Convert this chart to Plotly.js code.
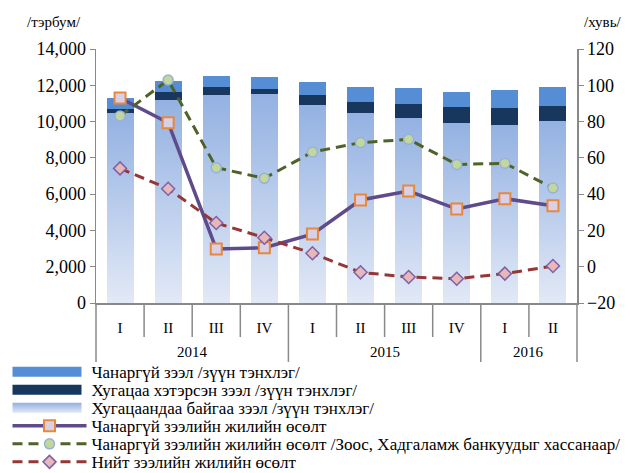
<!DOCTYPE html>
<html>
<head>
<meta charset="utf-8">
<script src="https://cdn.plot.ly/plotly-3.0.1.min.js"></script>
<style>html,body{margin:0;padding:0;background:#fff;}#chart{width:630px;height:473px;}</style>
</head>
<body>
<div id="chart"></div>
<script>
var years = ['2014','2014','2014','2014','2015','2015','2015','2015','2016','2016'];
var quarters = ['I','II','III','IV','I','II','III','IV','I','II'];
var performingLoans = [10450, 11200, 11460, 11520, 10910, 10490, 10200, 9940, 9810, 10050];
var overdueLoans = [260, 430, 440, 280, 550, 590, 770, 860, 940, 810];
var nplLoans = [590, 600, 610, 660, 720, 830, 880, 830, 990, 1050];
var nplGrowth = [93.0, 79.4, 9.8, 10.5, 18.0, 36.8, 41.7, 31.8, 37.5, 33.6];
var nplGrowthExBanks = [83.1, 102.9, 54.6, 48.7, 63.2, 68.4, 70.2, 56.4, 57.0, 43.4];
var totalLoanGrowth = [54.2, 43.0, 24.1, 16.0, 7.4, -3.1, -5.7, -6.6, -3.8, 0.4];

var names = [
  'Чанаргүй зээл /зүүн тэнхлэг/',
  'Хугацаа хэтэрсэн зээл /зүүн тэнхлэг/',
  'Хугацаандаа байгаа зээл /зүүн тэнхлэг/',
  'Чанаргүй зээлийн жилийн өсөлт',
  'Чанаргүй зээлийн жилийн өсөлт /Зоос, Хадгаламж банкуудыг хассанаар/',
  'Нийт зээлийн жилийн өсөлт'
];

// unique category keys (year + quarter), displayed as quarter only
var x = years.map(function(y, i){ return y + ' ' + quarters[i]; });
var FONT = '"Liberation Serif", "Times New Roman", serif';
var AXC = '#898989';
var N = quarters.length;

var traces = [
  {type:'bar', x:x, y:performingLoans, name:names[2], legendrank:3,
   marker:{color:'#b4c7e7', line:{width:0}}, hoverinfo:'none'},
  {type:'bar', x:x, y:overdueLoans, name:names[1], legendrank:2,
   marker:{color:'#17375e', line:{width:0}}, hoverinfo:'none'},
  {type:'bar', x:x, y:nplLoans, name:names[0], legendrank:1,
   marker:{color:'#558ed5', line:{width:0}}, hoverinfo:'none'},
  {type:'scatter', mode:'lines+markers', x:x, y:nplGrowth, yaxis:'y2', name:names[3], legendrank:4,
   line:{color:'#5f4b8b', width:3.5},
   marker:{symbol:'square', size:11, color:'#d9d0e8', line:{color:'#e8883a', width:2}}},
  {type:'scatter', mode:'lines+markers', x:x, y:nplGrowthExBanks, yaxis:'y2', name:names[4], legendrank:5,
   line:{color:'#4f6228', width:3, dash:'10px,6px'},
   marker:{symbol:'circle', size:10, color:'#c3d69b', line:{color:'#95b3d7', width:1.5}}},
  {type:'scatter', mode:'lines+markers', x:x, y:totalLoanGrowth, yaxis:'y2', name:names[5], legendrank:6,
   line:{color:'#953735', width:3, dash:'10px,6px'},
   marker:{symbol:'diamond', size:10, color:'#e6b9b8', line:{color:'#7f60a8', width:1.5}}}
];

// axis decorations: quarter separators and year dividers below the axis
var shapes = [];
var annotations = [];
for (var i = 0; i <= N; i++) {
  var yearEdge = (i === 0 || i === N || years[i] !== years[i - 1]);
  shapes.push({type:'line', xref:'paper', yref:'paper', x0:i/N, x1:i/N,
               y0:0, y1:yearEdge ? -0.232 : -0.134, line:{color:AXC, width:1.5}});
}
// year labels centered under their quarters
var seen = {};
years.forEach(function(y, i){ if (!seen[y]) seen[y] = []; seen[y].push(i); });
Object.keys(seen).forEach(function(y){
  var idx = seen[y];
  var mid = (idx[0] + idx[idx.length - 1]) / 2;
  annotations.push({xref:'x', yref:'paper', x:mid, y:-0.193, xanchor:'center', yanchor:'middle', showarrow:false,
                    text:y, font:{family:FONT, size:15, color:'#000'}});
});
annotations.push({xref:'paper', yref:'paper', x:-0.088, y:1.106, xanchor:'center', yanchor:'middle', showarrow:false,
                  text:'/тэрбум/', font:{family:FONT, size:15, color:'#000'}});
annotations.push({xref:'paper', yref:'paper', x:1.054, y:1.106, xanchor:'center', yanchor:'middle', showarrow:false,
                  text:'/хувь/', font:{family:FONT, size:15, color:'#000'}});

var layout = {
  width:630, height:473,
  margin:{l:96, r:53, t:49, b:170, autoexpand:false},
  paper_bgcolor:'#fff', plot_bgcolor:'#fff',
  font:{family:FONT, color:'#000', size:14},
  barmode:'stack', bargap:0.44,
  showlegend:true,
  legend:{x:-0.184, xanchor:'left', y:-0.202, yanchor:'top', traceorder:'normal', itemwidth:74,
          font:{family:FONT, size:17, color:'#000'}, tracegroupgap:0, bgcolor:'rgba(0,0,0,0)'},
  xaxis:{type:'category', tickvals:x, ticktext:quarters, showline:true, linecolor:AXC, linewidth:1.5,
         ticks:'', ticklabelstandoff:10, range:[-0.5, N - 0.5],
         tickfont:{family:FONT, size:15, color:'#000'}, showgrid:false, zeroline:false},
  yaxis:{range:[0,14000], dtick:2000, tickformat:',d', showline:true, linecolor:AXC, linewidth:1.5,
         ticks:'outside', ticklen:5, tickcolor:AXC, showgrid:false, zeroline:false,
         tickfont:{family:FONT, size:18, color:'#000'}},
  yaxis2:{range:[-20,120], dtick:20, overlaying:'y', side:'right', showline:true, linecolor:AXC, linewidth:1.5,
         ticks:'outside', ticklen:5, tickcolor:AXC, showgrid:false, zeroline:false,
         tickfont:{family:FONT, size:18, color:'#000'}},
  shapes: shapes,
  annotations: annotations
};

Plotly.newPlot('chart', traces, layout, {staticPlot:true, displayModeBar:false}).then(function(gd){
  var svg = gd.querySelector('.main-svg');
  var ns = 'http://www.w3.org/2000/svg';
  var defs = svg.querySelector('defs') || svg.insertBefore(document.createElementNS(ns,'defs'), svg.firstChild);
  var g = document.createElementNS(ns,'linearGradient');
  g.setAttribute('id','perfGrad');
  g.setAttribute('x1','0'); g.setAttribute('y1','0'); g.setAttribute('x2','0'); g.setAttribute('y2','1');
  [['0','#93b1e2'],['1','#e2e9f6']].forEach(function(s){
    var st = document.createElementNS(ns,'stop'); st.setAttribute('offset',s[0]); st.setAttribute('stop-color',s[1]); g.appendChild(st);
  });
  defs.appendChild(g);
  var barTraces = gd.querySelectorAll('.barlayer .trace');
  if (barTraces.length) {
    barTraces[0].querySelectorAll('path').forEach(function(p){ p.style.fill = 'url(#perfGrad)'; });
  }
  // legend: remove scroll clipping, tighten row spacing, widen bar swatches
  gd.querySelectorAll('.legend, .legend *').forEach(function(el){
    if (el.hasAttribute && el.hasAttribute('clip-path')) el.removeAttribute('clip-path');
  });
  gd.querySelectorAll('.legend .scrollbar').forEach(function(el){ el.style.display = 'none'; });
  var items = Array.prototype.slice.call(gd.querySelectorAll('.legend .traces'));
  var refItem = items.filter(function(t){ var tx = t.querySelector('.legendtext'); return tx && tx.textContent === names[3]; })[0];
  var refX = null, refTextX = null;
  if (refItem) {
    var mm = /translate\(([-\d.]+),\s*([-\d.]+)\)/.exec(refItem.getAttribute('transform') || '');
    if (mm) refX = mm[1];
    refTextX = refItem.querySelector('.legendtext').getAttribute('x');
  }
  var y0 = null;
  items.forEach(function(t, k){
    var m = /translate\(([-\d.]+),\s*([-\d.]+)\)/.exec(t.getAttribute('transform') || '');
    if (m) {
      if (y0 === null) y0 = parseFloat(m[2]);
      t.setAttribute('transform', 'translate(' + (refX !== null ? refX : m[1]) + ',' + (y0 + 18 * k) + ')');
    }
    var txt = t.querySelector('.legendtext');
    if (txt && refTextX !== null) {
      txt.setAttribute('x', refTextX);
      txt.querySelectorAll('tspan').forEach(function(ts){ if (ts.hasAttribute('x')) ts.setAttribute('x', refTextX); });
    }
    var isBar = txt && (txt.textContent === names[0] || txt.textContent === names[1] || txt.textContent === names[2]);
    if (isBar) {
      t.querySelectorAll('.legendpoints path').forEach(function(p){
        p.setAttribute('d','M5,5H74V-5H5Z');
        p.setAttribute('transform','');
        var par = p.parentNode;
        while (par && par !== t) { if (par.getAttribute && par.getAttribute('transform')) par.setAttribute('transform',''); par = par.parentNode; }
        if (txt.textContent === names[2]) p.style.fill = 'url(#perfGrad)';
      });
    }
  });
});
</script>
</body>
</html>
